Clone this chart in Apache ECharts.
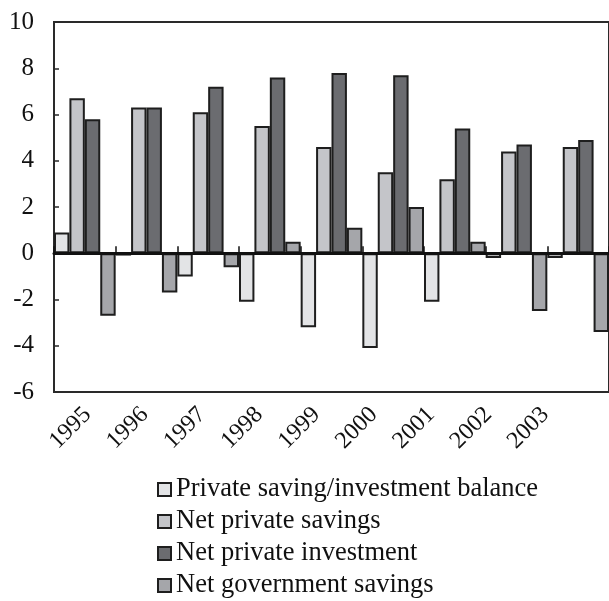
<!DOCTYPE html>
<html>
<head>
<meta charset="utf-8">
<script src="https://cdn.jsdelivr.net/npm/echarts@6/dist/echarts.min.js"></script>
<style>
  html, body { margin: 0; padding: 0; background: #fff; }
  #chart { width: 609px; height: 601px; }
</style>
</head>
<body>
<div id="chart"></div>
<script>
// Years on the category axis
const years = ['1995', '1996', '1997', '1998', '1999', '2000', '2001', '2002', '2003'];

// Series values (percent)
const savingInvestmentBalance = [0.9, -0.1, -1.0, -2.1, -3.2, -4.1, -2.1, -0.2, -0.2];
const netPrivateSavings       = [6.7, 6.3, 6.1, 5.5, 4.6, 3.5, 3.2, 4.4, 4.6];
const netPrivateInvestment    = [5.8, 6.3, 7.2, 7.6, 7.8, 7.7, 5.4, 4.7, 4.9];
const netGovernmentSavings    = [-2.7, -1.7, -0.6, 0.5, 1.1, 2.0, 0.5, -2.5, -3.4];

// Series names shown in the legend
const seriesNames = [
  'Private saving/investment balance',
  'Net private savings',
  'Net private investment',
  'Net government savings'
];

const FONT = "'Liberation Serif', 'Times New Roman', serif";
const fills = ['#e3e4e6', '#c4c5c9', '#6b6c70', '#a5a6aa'];
const seriesData = [savingInvestmentBalance, netPrivateSavings, netPrivateInvestment, netGovernmentSavings];

const chart = echarts.init(document.getElementById('chart'), null, { renderer: 'canvas' });

chart.setOption({
  animation: false,
  backgroundColor: '#ffffff',
  grid: [
    {
      left: 54, top: 22, width: 558, height: 370,
      show: true, borderColor: '#2a2a2a', borderWidth: 2, backgroundColor: 'transparent'
    },
    // companion grid carrying only the year labels beneath the plot
    { left: 59, top: 22, width: 515, height: 370, show: false }
  ],
  legend: {
    orient: 'vertical',
    left: 157,
    top: 476,
    padding: 0,
    itemWidth: 13,
    itemHeight: 13,
    itemGap: 5,
    icon: 'rect',
    textStyle: { fontFamily: FONT, fontSize: 26.5, color: '#111', lineHeight: 26 },
    data: seriesNames
  },
  xAxis: [
    {
      type: 'category',
      gridIndex: 0,
      data: years,
      z: 5,
      axisLine: { onZero: true, lineStyle: { color: '#111', width: 3 } },
      axisTick: { show: true, inside: true, length: 7, lineStyle: { color: '#111', width: 1.5 } },
      axisLabel: { show: false },
      splitLine: { show: false }
    },
    {
      type: 'category',
      gridIndex: 1,
      data: years,
      axisLine: { show: false },
      axisTick: { show: false },
      axisLabel: {
        rotate: 45,
        margin: 19,
        fontFamily: FONT,
        fontSize: 24,
        color: '#111'
      },
      splitLine: { show: false }
    }
  ],
  yAxis: [
    {
      type: 'value',
      gridIndex: 0,
      min: -6,
      max: 10,
      interval: 2,
      axisLine: { show: true, lineStyle: { color: '#2a2a2a', width: 2 } },
      axisTick: { show: true, inside: true, length: 5, lineStyle: { color: '#2a2a2a', width: 1.5 } },
      axisLabel: { fontFamily: FONT, fontSize: 25, color: '#111', margin: 20 },
      splitLine: { show: false }
    },
    { type: 'value', gridIndex: 1, min: -6, max: 10, show: false }
  ],
  series: seriesNames.map((name, i) => ({
    name: name,
    type: 'bar',
    xAxisIndex: 0,
    yAxisIndex: 0,
    data: seriesData[i],
    barGap: '0%',
    barCategoryGap: '0%',
    itemStyle: { color: fills[i], borderColor: '#1e1e1e', borderWidth: 2 }
  }))
});
</script>
</body>
</html>
